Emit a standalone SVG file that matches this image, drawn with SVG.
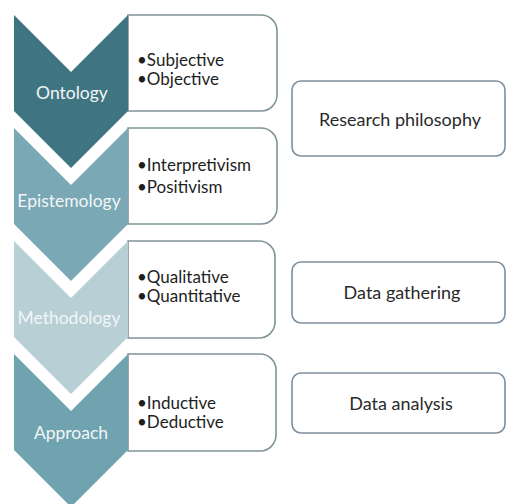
<svg xmlns="http://www.w3.org/2000/svg" width="506" height="504" viewBox="0 0 506 504">
  <style>
    .box { fill: #ffffff; stroke: #7f9498; stroke-width: 1.6; }
    .side { fill: #ffffff; stroke: #7d8e9e; stroke-width: 1.6; }
    .lbl { font-family: Lato, "Open Sans", sans-serif; font-size: 17.5px; fill: #f2f6f7; text-anchor: middle; }
    .item { font-family: Lato, "Open Sans", sans-serif; font-size: 17px; fill: #1e1e1e; }
    .cap { font-family: Lato, "Open Sans", sans-serif; font-size: 18px; fill: #2a2a2a; text-anchor: middle; }
  </style>
  <defs>
    <!-- chevron: 114 wide, 96 straight sides, 57 deep notch and tip -->
    <path id="chev" d="M14,0 L71,57 L128,0 L128,96 L71,153 L14,96 Z"/>
  </defs>
  <rect width="506" height="504" fill="#ffffff"/>

  <g id="ontology">
    <path class="box" d="M128,15 H261 A16,16 0 0 1 277,31 V95 A16,16 0 0 1 261,111 H128 Z"/>
    <use href="#chev" y="15" fill="#3f7481"/>
    <text class="lbl" x="72" y="99">Ontology</text>
    <text class="item" x="137" y="66">•Subjective</text>
    <text class="item" x="137" y="85">•Objective</text>
  </g>

  <g id="epistemology">
    <path class="box" d="M128,128 H261 A16,16 0 0 1 277,144 V208 A16,16 0 0 1 261,224 H128 Z"/>
    <use href="#chev" y="128" fill="#7aa8b4"/>
    <text class="lbl" x="69" y="207">Epistemology</text>
    <text class="item" x="137" y="171">•Interpretivism</text>
    <text class="item" x="137" y="193">•Positivism</text>
  </g>

  <g id="methodology">
    <path class="box" d="M128,241 H259 A16,16 0 0 1 275,257 V322 A16,16 0 0 1 259,338 H128 Z"/>
    <use href="#chev" y="241" fill="#b8cfd6"/>
    <text class="lbl" x="69" y="324">Methodology</text>
    <text class="item" x="137" y="283">•Qualitative</text>
    <text class="item" x="137" y="302">•Quantitative</text>
  </g>

  <g id="approach">
    <path class="box" d="M128,354 H260 A16,16 0 0 1 276,370 V435 A16,16 0 0 1 260,451 H128 Z"/>
    <use href="#chev" y="354" fill="#70a3b0"/>
    <text class="lbl" x="71" y="439">Approach</text>
    <text class="item" x="137" y="409">•Inductive</text>
    <text class="item" x="137" y="428">•Deductive</text>
  </g>

  <g id="research-philosophy">
    <rect class="side" x="292" y="81" width="213" height="75" rx="9"/>
    <text class="cap" x="400" y="126">Research philosophy</text>
  </g>

  <g id="data-gathering">
    <rect class="side" x="292" y="262" width="213" height="61" rx="9"/>
    <text class="cap" x="402" y="299">Data gathering</text>
  </g>

  <g id="data-analysis">
    <rect class="side" x="292" y="373" width="213" height="60" rx="9"/>
    <text class="cap" x="401" y="410">Data analysis</text>
  </g>

  <g id="connectors"/>
</svg>
